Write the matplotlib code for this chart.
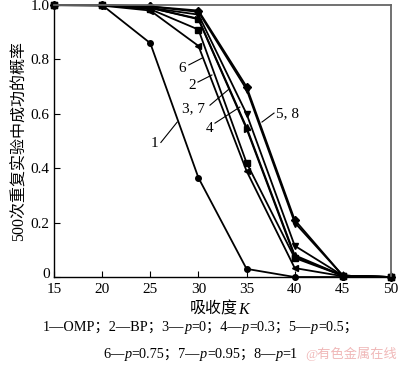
import matplotlib
matplotlib.use('Agg')
import matplotlib.pyplot as plt
from matplotlib.transforms import ScaledTranslation

plt.rcParams['font.family'] = ['Liberation Serif', 'Noto Sans CJK SC', 'DejaVu Sans']

# 吸收度 K 与成功概率
K = [15, 20, 25, 30, 35, 40, 45, 50]
omp = [1.0, 1.0, 0.86, 0.365, 0.03, 0.0, 0.0, 0.0]
bp = [1.0, 1.0, 0.985, 0.91, 0.42, 0.07, 0.005, 0.0]
p_0 = [1.0, 1.0, 0.99, 0.95, 0.55, 0.08, 0.005, 0.0]
p_03 = [1.0, 1.0, 0.99, 0.965, 0.60, 0.115, 0.005, 0.0]
p_05 = [1.0, 1.0, 0.995, 0.98, 0.70, 0.21, 0.005, 0.0]
p_075 = [1.0, 0.998, 0.98, 0.85, 0.39, 0.033, 0.003, 0.0]
p_095 = [1.0, 1.0, 0.99, 0.948, 0.545, 0.075, 0.005, 0.0]
p_1 = [1.0, 1.0, 0.995, 0.975, 0.69, 0.20, 0.005, 0.0]

series = [omp, bp, p_0, p_03, p_05, p_075, p_095, p_1]
markers = ['o', 's', '^', 'v', 'D', '<', '>', 'd']

# 曲线编号标注: 文字位置, 引线起点, 引线终点
labels = ['1', '6', '2', '3, 7', '4', '5, 8']
label_xy = [(25.4, 0.49), (28.3, 0.768), (29.33, 0.706), (29.5, 0.62), (31.2, 0.548), (39.3, 0.60)]
lead_from = [(26.1, 0.495), (29.0, 0.78), (29.95, 0.717), (31.2, 0.632), (31.72, 0.566), (37.85, 0.603)]
lead_to = [(27.8, 0.57), (30.37, 0.805), (31.4, 0.743), (33.17, 0.691), (34.3, 0.625), (36.6, 0.57)]

fig = plt.figure(figsize=(4.0, 3.65), dpi=100)
ax = fig.add_axes([0.135, 0.241, 0.8425, 0.745])

for s, m in zip(series, markers):
    ax.plot(K, s, color='black', lw=1.3, marker=m, ms=4, clip_on=False)

for t, xy, a, b in zip(labels, label_xy, lead_from, lead_to):
    ax.text(xy[0], xy[1], t, ha='center', va='center', fontsize=11)
    ax.plot([a[0], b[0]], [a[1], b[1]], color='black', lw=0.8)

ax.set_xlim(15, 50)
ax.set_ylim(0, 1.0)
ax.set_xticks([15, 20, 25, 30, 35, 40, 45, 50])
ax.set_yticks([0, 0.2, 0.4, 0.6, 0.8, 1.0])
ax.set_yticklabels(['0', '0.2', '0.4', '0.6', '0.8', '1.0'])
ax.tick_params(direction='in', length=4, width=0.8, labelsize=11, pad=3)
ax.tick_params(axis='x', pad=4)
for sp in ['left', 'bottom']:
    ax.spines[sp].set_linewidth(1.0)
for sp in ['top', 'right']:
    ax.spines[sp].set_color('#666666')
    ax.spines[sp].set_linewidth(1.3)

# "0" 稍微上移, 避免和 "15" 重叠
lab0 = ax.get_yticklabels()[0]
lab0.set_transform(lab0.get_transform() + ScaledTranslation(0, 3 / 72, fig.dpi_scale_trans))

ax.set_ylabel('500次重复实验中成功的概率', fontsize=11.5, labelpad=2)

# x 轴标题, K 为斜体
t = fig.text(0.475, 0.14, '吸收度', fontsize=11.5, ha='left', va='baseline')
ax.annotate('K', xy=(1, 0), xycoords=t, fontsize=11.5, style='italic', ha='left', va='bottom')

# 图注
def caption(x, y, parts):
    prev = fig.text(x, y, parts[0], fontsize=10.3, ha='left', va='baseline')
    for i, s in enumerate(parts[1:]):
        prev = ax.annotate(s, xy=(1, 0), xycoords=prev, fontsize=10.3, ha='left', va='bottom',
                           style='italic' if i % 2 == 0 else 'normal')

caption(0.108, 0.093, ['1—OMP；2—BP；3—', 'p', '=0；4—', 'p', '=0.3；5—', 'p', '=0.5；'])
caption(0.258, 0.02, ['6—', 'p', '=0.75；7—', 'p', '=0.95；8—', 'p', '=1'])

fig.text(0.763, 0.02, '@有色金属在线', fontsize=9.5, color='#f0b8b8', ha='left', va='baseline')

fig.savefig('out.png', dpi=100)
